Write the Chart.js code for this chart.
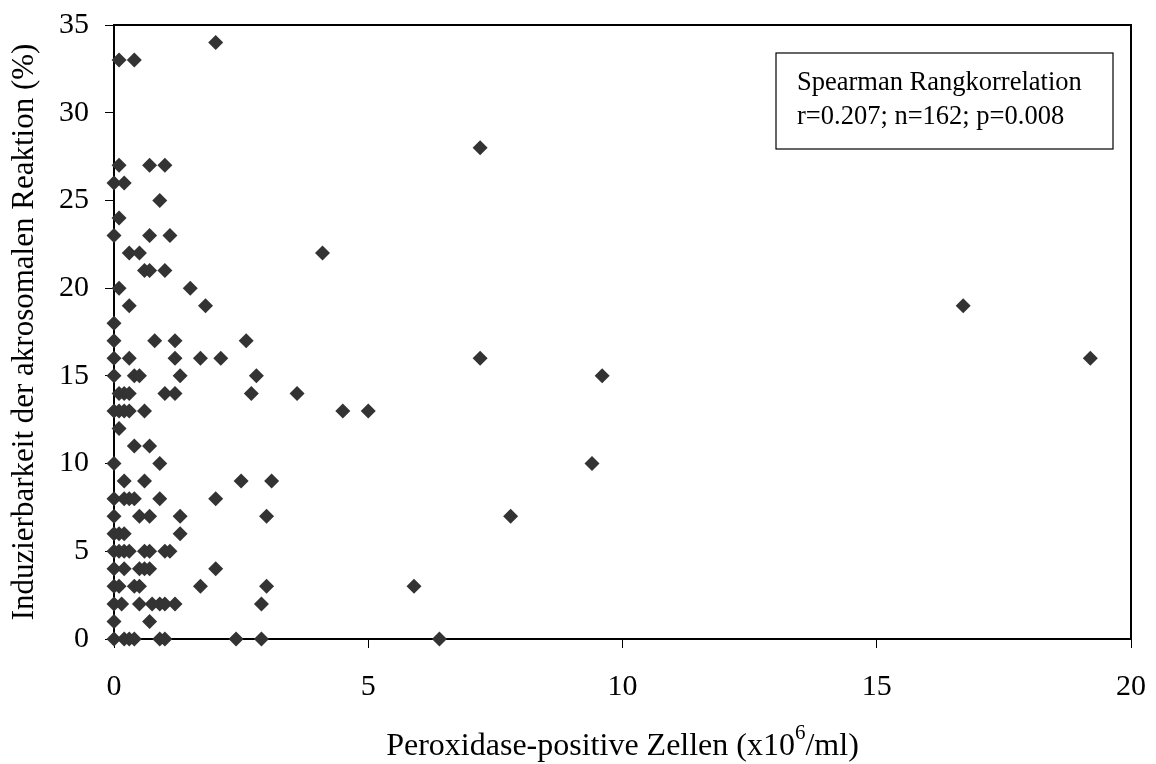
<!DOCTYPE html>
<html>
<head>
<meta charset="utf-8">
<script src="https://cdn.jsdelivr.net/npm/chart.js@4.4.1/dist/chart.umd.min.js"></script>
<style>
  html, body { margin: 0; padding: 0; background: #fff; }
  #wrap { width: 1156px; height: 764px; position: relative; }
</style>
</head>
<body>
<div id="wrap"><canvas id="grafico"></canvas></div>
<script>
// Werte (x: Peroxidase-positive Zellen, y: Induzierbarkeit %)
const xWerte = [
  2.0,
  0.1, 0.4,
  7.2,
  0.1, 0.7, 1.0,
  0, 0.2,
  0.9,
  0.1,
  0, 0.7, 1.1,
  0.3, 0.5, 4.1,
  0.6, 0.7, 1.0,
  0.1, 1.5,
  0.3, 1.8, 16.7,
  0,
  0, 0.8, 1.2, 2.6,
  0, 0.3, 1.2, 1.7, 2.1, 7.2, 19.2,
  0, 0.4, 0.5, 1.3, 2.8, 9.6,
  0.1, 0.2, 0.3, 1.0, 1.2, 2.7, 3.6,
  0, 0.1, 0.2, 0.3, 0.6, 4.5, 5.0,
  0.1,
  0.4, 0.7,
  0, 0.9, 9.4,
  0.2, 0.6, 2.5, 3.1,
  0, 0.2, 0.3, 0.4, 0.9, 2.0,
  0, 0.5, 0.7, 1.3, 3.0, 7.8,
  0, 0.1, 0.2, 1.3,
  0, 0.1, 0.2, 0.3, 0.6, 0.7, 1.0, 1.1,
  0, 0.2, 0.5, 0.6, 0.7, 2.0,
  0, 0.1, 0.4, 0.5, 1.7, 3.0, 5.9,
  0, 0.15, 0.5, 0.75, 0.9, 1.0, 1.2, 2.9,
  0, 0.7,
  0, 0.2, 0.3, 0.4, 0.9, 1.0, 2.4, 2.9, 6.4
];
const yWerte = [
  34,
  33, 33,
  28,
  27, 27, 27,
  26, 26,
  25,
  24,
  23, 23, 23,
  22, 22, 22,
  21, 21, 21,
  20, 20,
  19, 19, 19,
  18,
  17, 17, 17, 17,
  16, 16, 16, 16, 16, 16, 16,
  15, 15, 15, 15, 15, 15,
  14, 14, 14, 14, 14, 14, 14,
  13, 13, 13, 13, 13, 13, 13,
  12,
  11, 11,
  10, 10, 10,
  9, 9, 9, 9,
  8, 8, 8, 8, 8, 8,
  7, 7, 7, 7, 7, 7,
  6, 6, 6, 6,
  5, 5, 5, 5, 5, 5, 5, 5,
  4, 4, 4, 4, 4, 4,
  3, 3, 3, 3, 3, 3, 3,
  2, 2, 2, 2, 2, 2, 2, 2,
  1, 1,
  0, 0, 0, 0, 0, 0, 0, 0, 0
];
const xTicks = [0, 5, 10, 15, 20];
const yTicks = [0, 5, 10, 15, 20, 25, 30, 35];
const xTitel = ["Peroxidase-positive Zellen (x10", "6", "/ml)"];
const yTitel = "Induzierbarkeit der akrosomalen Reaktion (%)";
const infoZeilen = ["Spearman Rangkorrelation", "r=0.207; n=162; p=0.008"];

const SCHRIFT = "'Liberation Serif', 'Times New Roman', serif";

// Rahmen oben/rechts, Textbox, x-Achsentitel mit Hochzahl
const rahmenPlugin = {
  id: 'rahmen',
  beforeDatasetsDraw(chart) {
    const { ctx, chartArea: a } = chart;
    ctx.save();
    ctx.strokeStyle = '#000';
    ctx.lineWidth = 2;
    ctx.beginPath();
    ctx.moveTo(a.left, a.top);
    ctx.lineTo(a.right, a.top);
    ctx.lineTo(a.right, a.bottom);
    ctx.stroke();
    ctx.restore();
  },
  afterDraw(chart) {
    const { ctx, chartArea: a } = chart;
    ctx.save();
    // Textbox
    const bx = a.right - 355, by = a.top + 28, bw = 337, bh = 96;
    ctx.fillStyle = '#fff';
    ctx.fillRect(bx, by, bw, bh);
    ctx.strokeStyle = '#000';
    ctx.lineWidth = 1.2;
    ctx.strokeRect(bx, by, bw, bh);
    ctx.fillStyle = '#000';
    ctx.font = '26.5px ' + SCHRIFT;
    ctx.textBaseline = 'alphabetic';
    ctx.textAlign = 'left';
    ctx.fillText(infoZeilen[0], bx + 21, by + 37);
    ctx.fillText(infoZeilen[1], bx + 21, by + 71);

    // x-Titel
    const gross = '32px ' + SCHRIFT, klein = '21px ' + SCHRIFT;
    ctx.font = gross;
    const w1 = ctx.measureText(xTitel[0]).width;
    const w3 = ctx.measureText(xTitel[2]).width;
    ctx.font = klein;
    const w2 = ctx.measureText(xTitel[1]).width;
    const gesamt = w1 + w2 + w3;
    let x = (a.left + a.right) / 2 - gesamt / 2;
    const basis = 755;
    ctx.font = gross;
    ctx.fillText(xTitel[0], x, basis);
    x += w1;
    ctx.font = klein;
    ctx.fillText(xTitel[1], x, basis - 16);
    x += w2;
    ctx.font = gross;
    ctx.fillText(xTitel[2], x, basis);
    ctx.restore();
  }
};

const ctx = document.getElementById('grafico').getContext('2d');
new Chart(ctx, {
  type: 'scatter',
  data: {
    datasets: [{
      label: 'Werte',
      data: xWerte.map((v, i) => ({ x: v, y: yWerte[i] })),
      pointStyle: 'rectRot',
      pointRadius: 7.5,
      pointHoverRadius: 7.5,
      backgroundColor: '#333333',
      borderColor: '#333333',
      borderWidth: 0,
      clip: false
    }]
  },
  options: {
    responsive: true,
    maintainAspectRatio: false,
    animation: false,
    layout: { padding: { left: 0, right: 25, top: 25, bottom: 0 } },
    plugins: { legend: { display: false }, tooltip: { enabled: false } },
    scales: {
      x: {
        type: 'linear',
        min: 0, max: 20,
        afterBuildTicks: s => { s.ticks = xTicks.map(v => ({ value: v })); },
        afterFit: s => { s.height = 125; s.paddingLeft = 0; s.paddingRight = 0; },
        ticks: { font: { family: SCHRIFT, size: 30 }, color: '#000', padding: 21, maxRotation: 0 },
        grid: { drawOnChartArea: false, drawTicks: true, tickLength: 9, color: '#000', lineWidth: 1 },
        border: { display: true, color: '#000', width: 2 }
      },
      y: {
        min: 0, max: 35,
        afterBuildTicks: s => { s.ticks = yTicks.map(v => ({ value: v })); },
        afterFit: s => { s.width = 114; s.paddingTop = 0; s.paddingBottom = 0; },
        ticks: { font: { family: SCHRIFT, size: 30 }, color: '#000', padding: 16 },
        grid: { drawOnChartArea: false, drawTicks: true, tickLength: 9, color: '#000', lineWidth: 1 },
        border: { display: true, color: '#000', width: 2 },
        title: { display: true, text: yTitel, font: { family: SCHRIFT, size: 31 }, color: '#000', padding: { top: 6, bottom: 0 } }
      }
    }
  },
  plugins: [rahmenPlugin]
});
</script>
</body>
</html>
